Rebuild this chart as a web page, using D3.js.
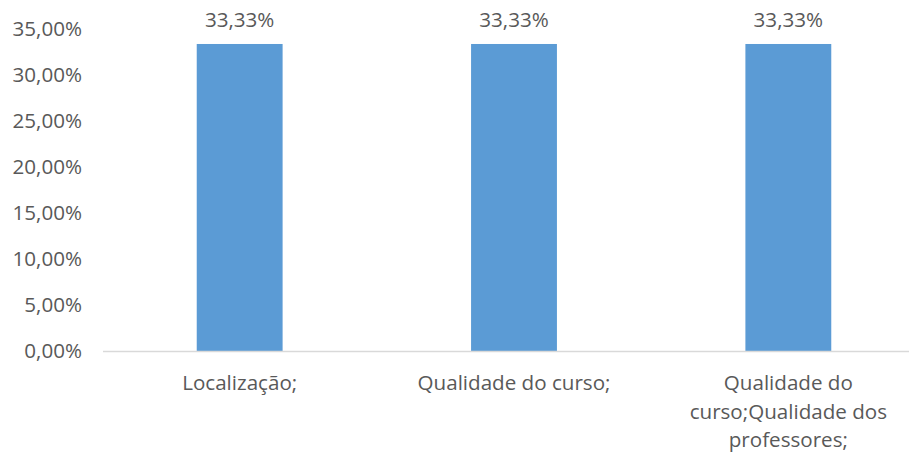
<!DOCTYPE html>
<html>
<head>
<meta charset="utf-8">
<script src="https://cdn.jsdelivr.net/npm/d3@7"></script>
<style>
  html, body { margin: 0; padding: 0; background: #fff; }
  svg { display: block; }
</style>
</head>
<body>
<div id="chart"></div>
<script>
// dados do gráfico
const categories = ["Localização;", "Qualidade do curso;", "Qualidade do curso;Qualidade dos professores;"];
const values = [33.33, 33.33, 33.33];
const yTicks = [0, 5, 10, 15, 20, 25, 30, 35];

const width = 909;
const height = 452;
const fontFamily = "'Open Sans', 'Liberation Sans', sans-serif";
const textColor = "#595959";
const fontSize = 20.6;

const svg = d3.select("#chart").append("svg")
    .attr("width", width)
    .attr("height", height);

// escalas
const x = d3.scaleBand()
    .domain(categories)
    .range([102.5, 925.5])
    .paddingInner(0.687)
    .paddingOuter(0.3435);

const y = d3.scaleLinear()
    .domain([0, 35])
    .range([351, 28.6]);

const fmt = v => v.toFixed(2).replace(".", ",") + "%";

// eixo Y (só rótulos)
svg.append("g")
    .selectAll("text")
    .data(yTicks)
    .join("text")
    .attr("x", 82)
    .attr("y", d => y(d))
    .attr("dy", "0.36em")
    .attr("text-anchor", "end")
    .attr("font-family", fontFamily)
    .attr("font-size", fontSize)
    .attr("fill", textColor)
    .text(d => fmt(d));

// barras
svg.append("g")
    .selectAll("rect")
    .data(values)
    .join("rect")
    .attr("x", (d, i) => x(categories[i]))
    .attr("y", d => y(d))
    .attr("width", x.bandwidth())
    .attr("height", d => y(0) - y(d))
    .attr("fill", "#5B9BD5");

// linha base
svg.append("line")
    .attr("x1", 103)
    .attr("x2", width)
    .attr("y1", y(0) + 0.5)
    .attr("y2", y(0) + 0.5)
    .attr("stroke", "#D9D9D9")
    .attr("stroke-width", 1.5);

// rótulos de valores
svg.append("g")
    .selectAll("text")
    .data(values)
    .join("text")
    .attr("x", (d, i) => x(categories[i]) + x.bandwidth() / 2)
    .attr("y", d => y(d) - 17)
    .attr("text-anchor", "middle")
    .attr("font-family", fontFamily)
    .attr("font-size", fontSize)
    .attr("fill", textColor)
    .text(d => fmt(d));

// rótulos das categorias, com quebra de linha
const maxW = 230;
const lineH = 28.5;
const catG = svg.append("g");
categories.forEach(cat => {
    const cx = x(cat) + x.bandwidth() / 2;
    const t = catG.append("text")
        .attr("x", cx)
        .attr("y", 390)
        .attr("text-anchor", "middle")
        .attr("font-family", fontFamily)
        .attr("font-size", fontSize)
        .attr("fill", textColor);
    const words = cat.split(" ");
    let line = [];
    let tspan = t.append("tspan").attr("x", cx).attr("dy", 0);
    words.forEach(w => {
        line.push(w);
        tspan.text(line.join(" "));
        if (tspan.node().getComputedTextLength() > maxW && line.length > 1) {
            line.pop();
            tspan.text(line.join(" "));
            line = [w];
            tspan = t.append("tspan")
                .attr("x", cx)
                .attr("dy", lineH)
                .text(w);
        }
    });
});
</script>
</body>
</html>
